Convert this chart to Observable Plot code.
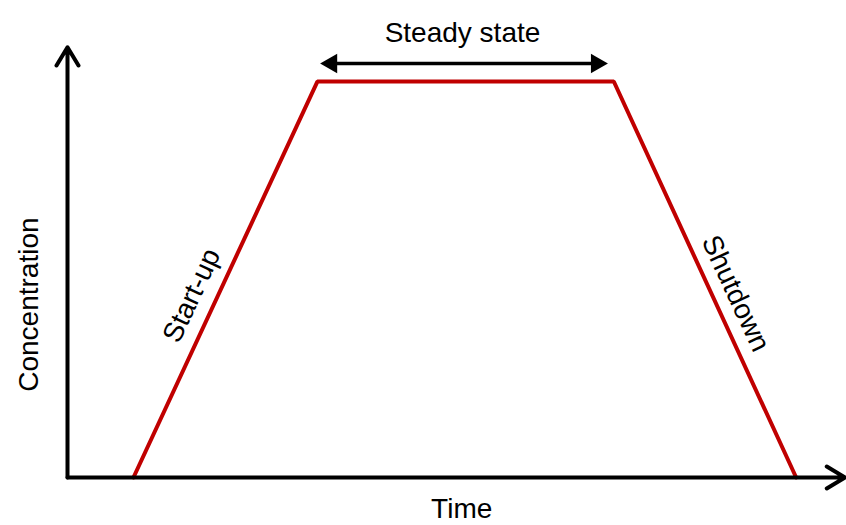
<!DOCTYPE html>
<html>
<head>
<meta charset="utf-8">
<script src="https://cdn.jsdelivr.net/npm/d3@7"></script>
<script src="https://cdn.jsdelivr.net/npm/@observablehq/plot@0.6"></script>
<style>
  html, body { margin: 0; padding: 0; background: #ffffff; }
  #chart svg { display: block; }
</style>
</head>
<body>
<div id="chart"></div>
<script>
// Profile of concentration over time (schematic units, 0–100)
const time = [8.5, 32.2, 70.4, 93.9];
const concentration = [0, 92.3, 92.3, 0];

// Annotation labels
const labelText = ["Start-up", "Shutdown"];
const labelX = [16.0, 86.1];
const labelY = [42.4, 42.9];
const labelRotate = [-65, 65];

// Steady-state span
const steadyStart = 32.6;
const steadyEnd = 69.6;
const steadyLevel = 96.5;

const profile = time.map((t, i) => ({t, c: concentration[i]}));
const labels = labelText.map((s, i) => ({s, x: labelX[i], y: labelY[i], r: labelRotate[i]}));
const heads = [
  {x: steadyStart, y: steadyLevel},
  {x: steadyEnd, y: steadyLevel}
];

const font = "'Liberation Sans', Arial, sans-serif";
const fs = 28;

const chart = Plot.plot({
  width: 846,
  height: 525,
  marginTop: 0, marginRight: 0, marginBottom: 0, marginLeft: 0,
  x: {type: "linear", domain: [0, 100], range: [67, 843], axis: null},
  y: {type: "linear", domain: [0, 100], range: [477, 48], axis: null},
  style: {fontFamily: font, background: "#ffffff"},
  marks: [
    Plot.line(profile, {x: "t", y: "c", stroke: "#c00000", strokeWidth: 4, strokeLinejoin: "miter"}),
    // axes with arrowheads
    Plot.arrow([{x1: 0, y1: 0, x2: 100.2, y2: 0}], {x1: "x1", y1: "y1", x2: "x2", y2: "y2", stroke: "black", strokeWidth: 4, headAngle: 62, headLength: 8}),
    Plot.arrow([{x1: 0, y1: 0, x2: 0, y2: 100.3}], {x1: "x1", y1: "y1", x2: "x2", y2: "y2", stroke: "black", strokeWidth: 4, headAngle: 62, headLength: 8}),
    // steady-state double arrow: shaft + filled heads
    Plot.link([{x1: steadyStart + 2, x2: steadyEnd - 2, y: steadyLevel}], {x1: "x1", x2: "x2", y1: "y", y2: "y", stroke: "black", strokeWidth: 3.5}),
    Plot.dot(heads.slice(0, 1), {x: "x", y: "y", symbol: "triangle2", r: 9.4, rotate: -90, dx: 11, fill: "black", stroke: "none"}),
    Plot.dot(heads.slice(1), {x: "x", y: "y", symbol: "triangle2", r: 9.4, rotate: 90, dx: -11, fill: "black", stroke: "none"}),
    Plot.text(["Steady state"], {x: 50.9, y: 103.7, text: d => d, fontSize: fs, fill: "black", textAnchor: "middle", lineAnchor: "middle"}),
    Plot.text(labels, {x: "x", y: "y", text: "s", rotate: "r", fontSize: fs, fill: "black", textAnchor: "middle", lineAnchor: "middle"}),
    Plot.text(["Time"], {x: 50.8, y: -7.4, text: d => d, fontSize: fs, fill: "black", textAnchor: "middle", lineAnchor: "middle"}),
    Plot.text(["Concentration"], {x: -4.9, y: 40.3, text: d => d, rotate: -90, fontSize: fs, fill: "black", textAnchor: "middle", lineAnchor: "middle"})
  ]
});
document.getElementById("chart").appendChild(chart);
</script>
</body>
</html>
